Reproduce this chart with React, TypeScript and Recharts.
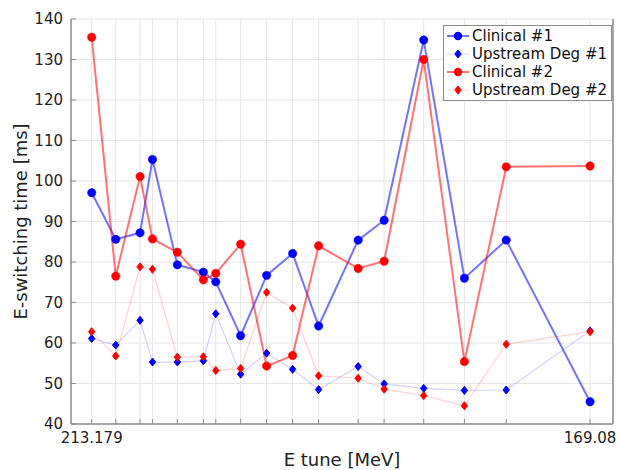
import { LineChart, Line, XAxis, YAxis, CartesianGrid } from 'recharts';

const energies = [213.179, 211.05, 208.9, 207.8, 205.6, 203.3, 202.2, 200.0, 197.7, 195.4, 193.1, 189.6, 187.3, 183.8, 180.2, 176.5, 169.08];
const clinical1 = [97.1, 85.6, 87.2, 105.3, 79.3, 77.5, 75.1, 61.8, 76.7, 82.1, 64.2, 85.4, 90.3, 134.8, 76.0, 85.4, 45.5];
const upstream1 = [61.1, 59.5, 65.6, 55.3, 55.3, 55.6, 67.2, 52.3, 57.5, 53.5, 48.5, 54.2, 49.9, 48.8, 48.3, 48.4, 63.0];
const clinical2 = [135.5, 76.5, 101.1, 85.7, 82.4, 75.6, 77.2, 84.4, 54.3, 56.9, 84.0, 78.4, 80.2, 130.0, 55.4, 103.5, 103.7];
const upstream2 = [62.8, 56.8, 78.8, 78.2, 56.5, 56.6, 53.2, 53.7, 72.5, 68.6, 51.9, 51.3, 48.6, 47.0, 44.5, 59.7, 62.8];
const yTicks = [40, 50, 60, 70, 80, 90, 100, 110, 120, 130, 140];
const xLabels = ['213.179', '169.08'];

const data = energies.map((e, i) => ({
  e,
  c1: clinical1[i],
  u1: upstream1[i],
  c2: clinical2[i],
  u2: upstream2[i],
}));

const FONT = '"DejaVu Sans", sans-serif';
const FRAME = '#8c8c8c';
const BLUE = '#0000ff';
const RED = '#ff0000';

const series = [
  { key: 'c1', name: 'Clinical #1', color: BLUE, clinical: true },
  { key: 'u1', name: 'Upstream Deg #1', color: BLUE, clinical: false },
  { key: 'c2', name: 'Clinical #2', color: RED, clinical: true },
  { key: 'u2', name: 'Upstream Deg #2', color: RED, clinical: false },
];

const Diamond = (props: any) => {
  const { cx, cy, fill } = props;
  if (cx == null || cy == null) return null;
  const r = 4;
  return <path d={`M${cx},${cy - r}L${cx + r * 0.8},${cy}L${cx},${cy + r}L${cx - r * 0.8},${cy}Z`} fill={fill} stroke={fill} strokeWidth={1} strokeLinejoin="round" />;
};

const BottomTick = ({ x, y, index }: any) => {
  const last = index === energies.length - 1;
  const label = index === 0 ? xLabels[0] : last ? xLabels[1] : '';
  return (
    <g>
      <line x1={x} x2={x} y1={y} y2={y - 5} stroke={FRAME} />
      {label && (
        <text x={x} y={y + 19} textAnchor="middle" fontSize={15} fontFamily={FONT} fill="#222">{label}</text>
      )}
    </g>
  );
};

const TopTick = ({ x, y }: any) => <line x1={x} x2={x} y1={y} y2={y + 5} stroke={FRAME} />;

const LeftTick = ({ x, y, payload }: any) => (
  <g>
    <line x1={x} x2={x + 5} y1={y} y2={y} stroke={FRAME} />
    <text x={x - 8} y={y + 5} textAnchor="end" fontSize={15} fontFamily={FONT} fill="#222">{payload.value}</text>
  </g>
);

const RightTick = ({ x, y }: any) => <line x1={x} x2={x - 5} y1={y} y2={y} stroke={FRAME} />;

const LegendBox = () => (
  <div style={{ position: 'absolute', left: 443, top: 25, border: '1.5px solid #8c8c8c', background: '#fff', padding: '1px 4px 1px 2px', fontFamily: FONT, fontSize: 15, color: '#111', lineHeight: '18px' }}>
    {series.map((s) => (
      <div key={s.key} style={{ display: 'flex', alignItems: 'center', height: 18 }}>
        <svg width={24} height={18} style={{ marginRight: 2 }}>
          <line x1={1} x2={23} y1={9} y2={9} stroke={s.color} strokeOpacity={s.clinical ? 0.55 : 0.15} strokeWidth={s.clinical ? 2 : 1.2} />
          {s.clinical ? <circle cx={12} cy={9} r={4.2} fill={s.color} /> : <Diamond cx={12} cy={9} fill={s.color} />}
        </svg>
        <span style={{ whiteSpace: 'nowrap' }}>{s.name}</span>
      </div>
    ))}
  </div>
);

export default function App() {
  return (
    <div style={{ position: 'absolute', left: 0, top: 0, width: 620, height: 470, background: '#fff' }}>
      <LineChart width={620} height={470} data={data} margin={{ top: 19, right: 0, bottom: 0, left: 0 }}>
        <CartesianGrid stroke="#e6e6e6" strokeWidth={1} />
        <XAxis
          dataKey="e"
          type="number"
          domain={[167.05, 215.01]}
          reversed
          ticks={energies}
          interval={0}
          height={46}
          tickSize={0}
          tickMargin={0}
          tickLine={false}
          axisLine={{ stroke: FRAME, strokeWidth: 1.5 }}
          tick={<BottomTick />}
          label={{ value: 'E tune [MeV]', position: 'insideBottom', offset: 4, fontSize: 18, fontFamily: FONT, fill: '#222' }}
        />
        <XAxis
          xAxisId="top"
          orientation="top"
          dataKey="e"
          type="number"
          domain={[167.05, 215.01]}
          reversed
          ticks={energies}
          interval={0}
          height={0}
          tickSize={0}
          tickMargin={0}
          tickLine={false}
          axisLine={{ stroke: FRAME, strokeWidth: 1.5 }}
          tick={<TopTick />}
        />
        <YAxis
          domain={[40, 140]}
          ticks={yTicks}
          interval={0}
          width={71}
          tickSize={0}
          tickMargin={0}
          tickLine={false}
          axisLine={{ stroke: FRAME, strokeWidth: 1.5 }}
          tick={<LeftTick />}
          label={{ value: 'E-switching time [ms]', angle: -90, position: 'insideLeft', offset: 21, style: { textAnchor: 'middle' }, fontSize: 18, fontFamily: FONT, fill: '#222' }}
        />
        <YAxis
          yAxisId="right"
          orientation="right"
          domain={[40, 140]}
          ticks={yTicks}
          interval={0}
          width={7}
          tickSize={0}
          tickMargin={0}
          tickLine={false}
          axisLine={{ stroke: FRAME, strokeWidth: 1.5 }}
          tick={<RightTick />}
        />
        {series.map((s) =>
          s.clinical ? (
            <Line
              key={s.key}
              dataKey={s.key}
              name={s.name}
              stroke={s.color}
              strokeOpacity={0.55}
              strokeWidth={2}
              dot={{ r: 4.2, fill: s.color, stroke: s.color, strokeOpacity: 1, strokeWidth: 0.5 }}
              isAnimationActive={false}
            />
          ) : (
            <Line
              key={s.key}
              dataKey={s.key}
              name={s.name}
              stroke={s.color}
              strokeOpacity={0.18}
              strokeWidth={1.2}
              dot={<Diamond fill={s.color} />}
              isAnimationActive={false}
            />
          )
        )}
      </LineChart>
      <LegendBox />
    </div>
  );
}
